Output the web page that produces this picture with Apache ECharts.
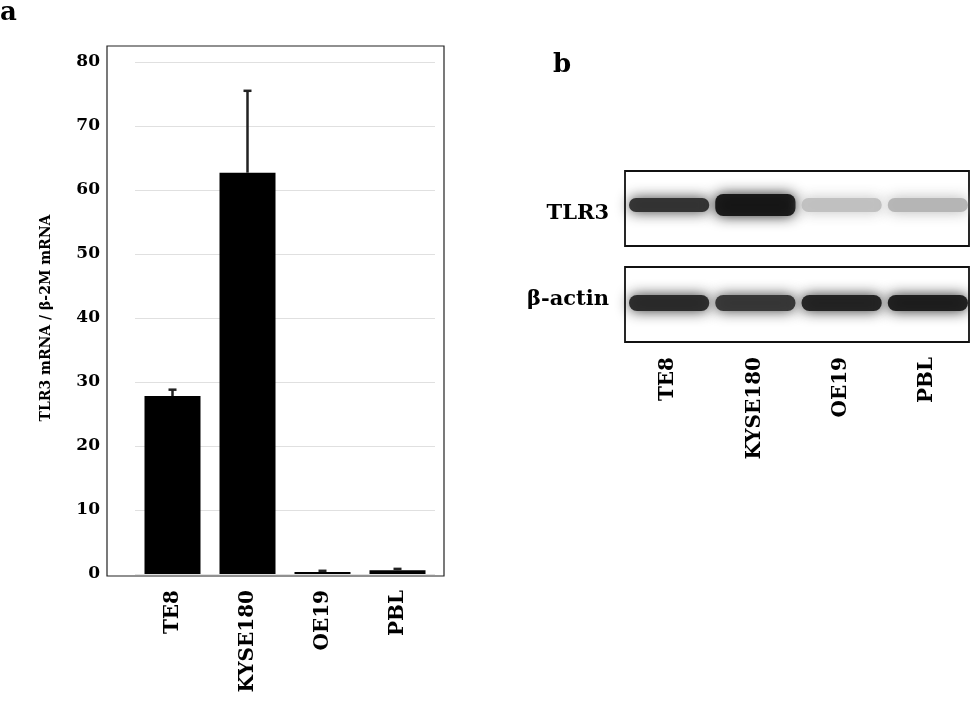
<!DOCTYPE html>
<html><head><meta charset="utf-8">
<script src="https://cdn.jsdelivr.net/npm/echarts@6/dist/echarts.min.js"></script>
<style>html,body{margin:0;background:#fff}#c{width:970px;height:709px}</style>
</head><body><div id="c"></div>
<script>
const categories = ['TE8','KYSE180','OE19','PBL'];
const meanValues = [27.8, 62.7, 0.3, 0.6];
const errorUpper = [28.8, 75.5, 0.5, 0.8];
const yTicks = [0,10,20,30,40,50,60,70,80];
const blotRows = ['TLR3','β-actin'];
const tlr3Intensity = [0.82, 0.92, 0.25, 0.3];
const actinIntensity = [0.85, 0.8, 0.88, 0.9];

const F = 'DejaVu Serif';
const chart = echarts.init(document.getElementById('c'));
const bandData = [];
tlr3Intensity.forEach((v,i)=>bandData.push([i,0,v]));
actinIntensity.forEach((v,i)=>bandData.push([i,1,v]));

chart.setOption({
  animation:false,
  graphic:[
    {type:'text',left:0,top:0,style:{text:'a',fontFamily:F,fontWeight:'bold',fontSize:26,fill:'#000'}},
    {type:'text',left:553,top:52,style:{text:'b',fontFamily:F,fontWeight:'bold',fontSize:26,fill:'#000'}},
    {type:'rect',shape:{x:107,y:46,width:337,height:530},style:{fill:'none',stroke:'#222',lineWidth:1.2},z:10}
  ],
  grid:[
    {left:135,top:62,width:300,height:512},
    {left:625,top:171,width:345,height:172}
  ],
  xAxis:[
    {type:'category',gridIndex:0,data:categories,axisTick:{show:false},
     axisLine:{show:false},
     axisLabel:{rotate:90,fontFamily:F,fontWeight:'bold',fontSize:20,color:'#000',margin:16}},
    {type:'category',gridIndex:1,data:categories,axisTick:{show:false},axisLine:{show:false},
     axisLabel:{rotate:90,fontFamily:F,fontWeight:'bold',fontSize:20,color:'#000',margin:14}}
  ],
  yAxis:[
    {type:'value',gridIndex:0,min:0,max:80,interval:10,
     name:'TLR3 mRNA / β-2M mRNA',nameLocation:'middle',nameGap:82,
     nameTextStyle:{fontFamily:F,fontWeight:'bold',fontSize:14,color:'#000'},
     axisLabel:{fontFamily:F,fontWeight:'bold',fontSize:17,color:'#000',margin:35,
       formatter:v=>yTicks.includes(v)?String(v):''},
     splitLine:{lineStyle:{color:'#e0e0e0'}},axisLine:{show:false},axisTick:{show:false}},
    {type:'category',gridIndex:1,data:blotRows,inverse:true,axisLine:{show:false},axisTick:{show:false},
     axisLabel:{fontFamily:F,fontWeight:'bold',fontSize:21,color:'#000',margin:16}}
  ],
  series:[
    {type:'bar',xAxisIndex:0,yAxisIndex:0,data:meanValues,barWidth:56,itemStyle:{color:'#000'}},
    {type:'custom',xAxisIndex:0,yAxisIndex:0,
     data:categories.map((c,i)=>[i,meanValues[i],errorUpper[i]]),
     renderItem:(p,api)=>{
       const b=api.coord([api.value(0),api.value(1)]), t=api.coord([api.value(0),api.value(2)]);
       return {type:'group',children:[
         {type:'line',shape:{x1:b[0],y1:b[1],x2:t[0],y2:t[1]},style:{stroke:'#222',lineWidth:2.5}},
         {type:'line',shape:{x1:t[0]-4,y1:t[1],x2:t[0]+4,y2:t[1]},style:{stroke:'#222',lineWidth:2.5}}
       ]};
     },z:5},
    {type:'custom',xAxisIndex:1,yAxisIndex:1,data:bandData,
     renderItem:(p,api)=>{
       const c=api.coord([api.value(0),api.value(1)]);
       const sz=api.size([1,1]);
       const v=api.value(2), row=api.value(1), lane=api.value(0);
       const g=Math.round(255*(1-v));
       const col='rgb('+g+','+g+','+g+')';
       const h = row===0 ? (lane===1?22:14) : 16;
       const dy = row===0 ? -9 : 3;
       const ch=[];
       if(lane===0){
         ch.push({type:'rect',shape:{x:c[0]-sz[0]/2,y:c[1]-sz[1]/2+(row===0?0:10),width:344,height:75},
           style:{fill:'#fff',stroke:'#111',lineWidth:1.8},z2:0});
       }
       ch.push({type:'rect',shape:{x:c[0]-sz[0]/2+4,y:c[1]+dy-h/2,width:sz[0]-6,height:h,r:8},
         style:{fill:col,shadowBlur:14,shadowColor:col,opacity:0.95},z2:1});
       return {type:'group',children:ch};
     }}
  ]
});
</script></body></html>
